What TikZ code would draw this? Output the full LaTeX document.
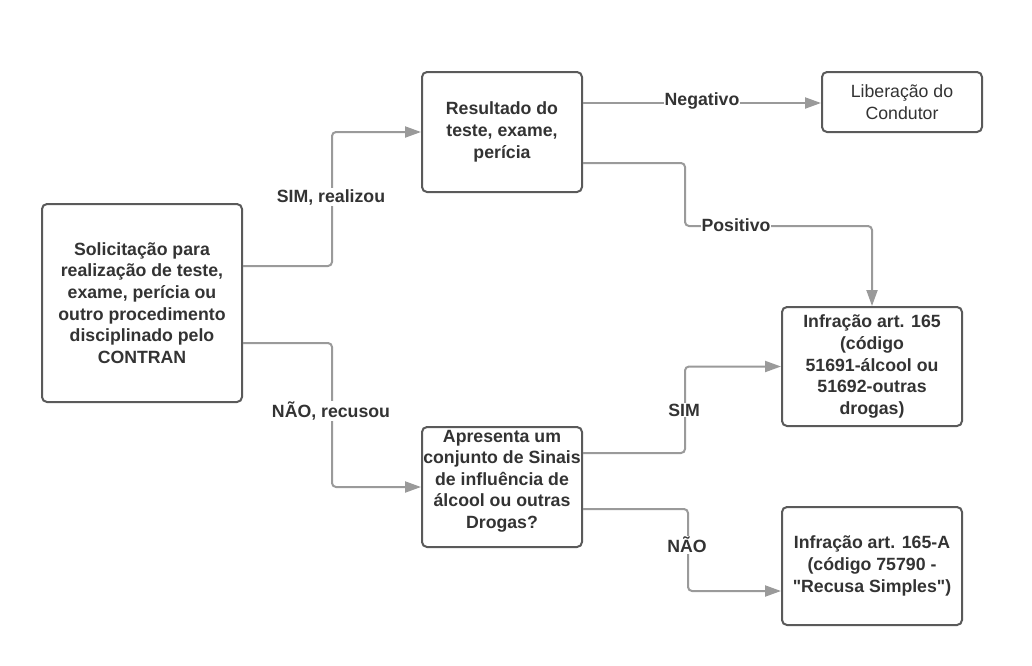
\documentclass[tikz,border=0pt]{standalone}
\usepackage{fontspec}
\setmainfont{Liberation Sans}
\usetikzlibrary{arrows.meta,calc}
\definecolor{boxline}{HTML}{5A5A5A}
\definecolor{txt}{HTML}{333333}
\definecolor{conncol}{HTML}{9A9A9A}
\tikzset{
  box/.style={draw=boxline, line width=2pt, rounded corners=5pt, fill=white,
    align=center, text=txt, font=\fontsize{17.7}{21.6}\selectfont\bfseries, inner sep=0pt},
  plainbox/.style={box, font=\fontsize{17.7}{21.6}\selectfont},
  conn/.style={draw=conncol, line width=2pt, rounded corners=4pt,
    -{Triangle[length=16pt,width=11pt]}},
  lbl/.style={fill=white, text=txt, font=\fontsize{17.7}{20}\selectfont\bfseries, inner sep=1pt}
}
\begin{document}
\begin{tikzpicture}[x=1pt,y=-1pt]
\useasboundingbox (0,0) rectangle (1032,665);
\fill[white] (0,0) rectangle (1032,665);

\node[box, minimum width=200pt, minimum height=198pt] (sol) at (142,303)
  {Solicitação para\\realização de teste,\\exame, perícia ou\\outro procedimento\\disciplinado pelo\\CONTRAN};
\node[box, minimum width=160pt, minimum height=120pt] (res) at (502,132)
  {Resultado do\\teste, exame,\\perícia};
\node[plainbox, minimum width=160pt, minimum height=60pt] (lib) at (902,102)
  {Liberação do\\Condutor};
\node[box, minimum width=180pt, minimum height=119pt] (inf) at (872,366.5)
  {Infração art. 165\\(código\\51691-álcool ou\\51692-outras\\drogas)};
\node[box, minimum width=180pt, minimum height=118pt] (infa) at (872,566)
  {Infração art. 165-A\\(código 75790 -\\\textquotedbl Recusa Simples\textquotedbl)};
\node[box, minimum width=160pt, minimum height=120pt] (apr) at (502,487)
  {Apresenta um\\conjunto de Sinais\\de influência de\\álcool ou outras\\Drogas?\\[-6pt]\mbox{}};

% Solicitação -> Resultado
\draw[conn] ([yshift=37pt]sol.east) -- ++(89,0) |- (res.west);
\node[lbl] (l1) at (331,197) {SIM, realizou};
% Solicitação -> Apresenta
\draw[conn] ([yshift=-40pt]sol.east) -- ++(89,0) |- (apr.west);
\node[lbl] (l2) at (331,411) {NÃO, recusou};
% Resultado -> Liberação
\draw[conn] ([yshift=29pt]res.east) -- ([yshift=-1pt]lib.west);
\node[lbl] (l3) at (702,101) {Negativo};
% Resultado -> Infração 165
\draw[conn] ([yshift=-31pt]res.east) -- ++(102,0) |- (872,226) -- (inf.north);
\node[lbl] (l4) at (736,225) {Positivo};
% Apresenta -> Infração 165
\draw[conn] ([yshift=34pt]apr.east) -- ++(102,0) |- (inf.west);
\node[lbl] (l5) at (684,410) {SIM};
% Apresenta -> Infração 165-A
\draw[conn] ([yshift=-22pt]apr.east) -- ++(105,0) |- ([yshift=-25pt]infa.west);
\node[lbl] (l6) at (687,545) {NÃO};
\end{tikzpicture}
\end{document}
